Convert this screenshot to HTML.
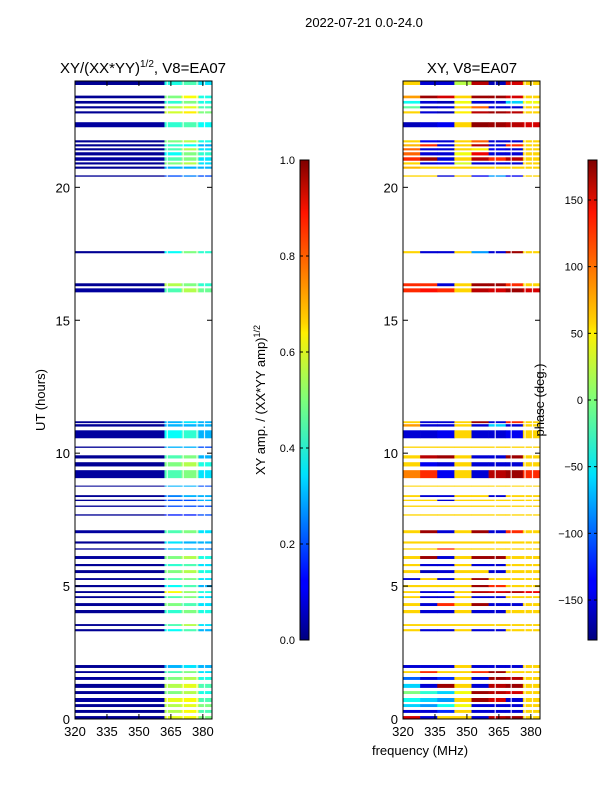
<!DOCTYPE html>
<html><head><meta charset="utf-8">
<style>
body{margin:0;background:#fff;}
svg text{font-family:"Liberation Sans","DejaVu Sans",sans-serif;fill:#000;}
</style></head>
<body>
<svg id="fig" width="600" height="800" xmlns="http://www.w3.org/2000/svg">
<defs>
<linearGradient id="jet" x1="0" y1="1" x2="0" y2="0">
<stop offset="0" stop-color="#00007f"/><stop offset="0.11" stop-color="#0000ff"/>
<stop offset="0.125" stop-color="#0000ff"/><stop offset="0.34" stop-color="#00dcff"/>
<stop offset="0.35" stop-color="#00e4f8"/><stop offset="0.5" stop-color="#7dff7a"/>
<stop offset="0.64" stop-color="#fff000"/><stop offset="0.66" stop-color="#ffd400"/>
<stop offset="0.89" stop-color="#ff1400"/><stop offset="1" stop-color="#7f0000"/>
</linearGradient>
</defs>
<text x="364" y="27" font-size="13" text-anchor="middle">2022-07-21 0.0-24.0</text>
<text x="143" y="73" font-size="15" text-anchor="middle">XY/(XX*YY)<tspan font-size="10" dy="-6">1/2</tspan><tspan dy="6">, V8=EA07</tspan></text>
<text x="472" y="73" font-size="15" text-anchor="middle">XY, V8=EA07</text>
<text transform="translate(45,400) rotate(-90)" font-size="13" text-anchor="middle">UT (hours)</text>
<text x="420" y="755" font-size="13" text-anchor="middle">frequency (MHz)</text>
<text transform="translate(265,400) rotate(-90)" font-size="13" text-anchor="middle">XY amp. / (XX*YY amp)<tspan font-size="9" dy="-5">1/2</tspan></text>
<g id="amp"></g>
<g id="ph"></g>
<g id="cb"></g>
<text transform="translate(544,400) rotate(-90)" font-size="13" text-anchor="middle">phase (deg.)</text>
</svg>
<script>
// data
const bandStart=[23.85,23.35,23.15,22.97,22.78,22.26,21.69,21.54,21.39,21.2,21.0,20.86,20.7,20.4,17.52,16.28,16.05,11.13,11.0,10.56,10.2,9.8,9.5,9.06,8.74,8.35,8.2,7.98,7.65,6.99,6.6,6.37,6.02,5.75,5.49,5.23,4.96,4.74,4.55,4.25,3.98,3.5,3.3,1.92,1.73,1.47,1.17,0.94,0.64,0.45,0.23,0.0];
const bandEnd=[24.0,23.45,23.25,23.05,22.86,22.45,21.77,21.62,21.47,21.32,21.13,20.94,20.78,20.45,17.6,16.39,16.2,11.2,11.09,10.86,10.25,9.92,9.66,9.36,8.78,8.42,8.25,8.03,7.7,7.1,6.68,6.42,6.13,5.83,5.6,5.3,5.04,4.81,4.62,4.36,4.1,3.57,3.38,2.03,1.8,1.58,1.32,1.05,0.79,0.56,0.34,0.11];
const ampLow=[0.02,0.02,0.02,0.02,0.02,0.03,0.02,0.02,0.02,0.02,0.03,0.02,0.02,0.02,0.02,0.02,0.03,0.02,0.02,0.03,0.02,0.02,0.02,0.03,0.02,0.02,0.02,0.02,0.02,0.03,0.02,0.02,0.03,0.02,0.02,0.02,0.02,0.02,0.02,0.02,0.02,0.02,0.02,0.02,0.02,0.03,0.02,0.02,0.03,0.02,0.02,0.02];
const ampHigh=[[0.4,0.45,0.35],[0.5,0.62,0.4],[0.42,0.5,0.4],[0.55,0.6,0.45],[0.58,0.64,0.5],[0.42,0.45,0.38],[0.5,0.55,0.4],[0.42,0.38,0.3],[0.45,0.55,0.35],[0.38,0.5,0.42],[0.45,0.5,0.35],[0.5,0.55,0.35],[0.3,0.3,0.3],[0.2,0.25,0.2],[0.38,0.5,0.42],[0.55,0.5,0.42],[0.45,0.55,0.48],[0.3,0.35,0.3],[0.3,0.3,0.3],[0.38,0.42,0.3],[0.3,0.3,0.2],[0.45,0.5,0.3],[0.5,0.55,0.4],[0.45,0.5,0.35],[0.3,0.3,0.2],[0.25,0.3,0.3],[0.2,0.2,0.3],[0.2,0.2,0.2],[0.15,0.15,0.2],[0.45,0.5,0.35],[0.35,0.3,0.3],[0.3,0.3,0.25],[0.5,0.55,0.4],[0.42,0.45,0.35],[0.5,0.55,0.4],[0.45,0.5,0.35],[0.38,0.45,0.3],[0.62,0.52,0.4],[0.45,0.5,0.35],[0.5,0.45,0.35],[0.42,0.5,0.4],[0.45,0.55,0.35],[0.38,0.45,0.3],[0.3,0.35,0.3],[0.45,0.5,0.35],[0.5,0.55,0.4],[0.55,0.6,0.45],[0.5,0.55,0.4],[0.6,0.62,0.45],[0.55,0.6,0.5],[0.55,0.62,0.45],[0.6,0.62,0.5]];
const phase=[[60,-150,-150,20,160,-160,150,60],[80,170,150,60,170,170,150,60],[-40,-150,-160,40,-150,-150,-60,40],[-10,-160,-150,60,100,-150,-150,60],[60,-150,-160,50,160,170,160,60],[-160,-150,-140,60,175,170,160,150],[60,-140,-150,60,100,-150,-150,60],[70,120,-150,60,160,-150,120,60],[100,-150,-150,60,50,-140,-150,60],[100,-150,-150,40,140,-150,-150,60],[120,170,-150,60,160,120,160,60],[60,-150,-140,30,-150,-150,-150,60],[70,60,60,60,60,60,60,60],[60,60,-150,60,-140,-80,-140,60],[60,-150,-150,60,-80,-150,170,60],[120,120,-150,60,170,170,120,60],[120,130,120,60,160,150,170,150],[60,-150,-150,60,170,-150,120,60],[80,-150,-150,60,-150,-60,-150,60],[-150,-150,-140,60,-150,-150,-140,60],[60,60,60,60,60,60,60,60],[60,160,170,60,-150,-150,170,60],[60,-140,-150,60,-150,-150,-150,60],[90,120,-140,60,-150,160,170,120],[60,60,60,60,60,60,60,60],[60,-150,-150,60,60,-150,60,60],[60,60,-150,60,60,60,60,60],[60,60,60,60,60,60,60,60],[60,60,60,60,60,60,60,60],[60,170,-150,60,170,-150,120,60],[60,60,60,60,60,60,60,60],[60,60,120,60,60,60,60,60],[60,170,-150,60,170,170,60,60],[60,-150,-150,60,-150,-150,60,60],[60,-160,-150,60,60,-150,60,60],[-150,60,-150,60,170,60,60,60],[60,60,60,60,170,120,60,60],[60,-150,-140,60,160,150,160,140],[60,-150,-150,60,-150,-150,60,60],[60,-150,120,60,170,-150,-150,60],[60,-150,-150,60,-150,-150,60,60],[60,60,60,60,60,60,60,60],[60,-150,-150,60,-150,-150,60,60],[-150,-150,-150,60,-150,-150,-150,60],[60,120,60,60,120,170,60,60],[-100,-150,-120,60,-150,170,160,60],[-60,-150,170,60,-150,160,170,60],[0,-30,-60,40,170,160,150,60],[-40,-60,-80,60,170,150,-150,60],[-60,-80,-40,40,-150,-150,-150,60],[-150,-150,-120,60,-150,-150,-150,60],[150,-150,60,60,-150,160,170,60]];
const flaggedFreqs=[363,370.5,377,380.5];
const yTicks=[0,5,10,15,20];
const xTicks=[320,335,350,365,380];
const ampTicks=[0.0,0.2,0.4,0.6,0.8,1.0];
const phTicks=[-150,-100,-50,0,50,100,150];

const NS="http://www.w3.org/2000/svg";
const svg=document.getElementById('fig');
const top_=81,bot=719,tMax=24;
const fMin=320,fMax=384.3;
const yS=t=>bot-(t/tMax)*(bot-top_);
const panels=[{x0:75,x1:212,g:document.getElementById('amp')},{x0:403,x1:540,g:document.getElementById('ph')}];
function jet(v){v=Math.max(0,Math.min(1,v));
 const r=Math.min(4*v-1.5,-4*v+4.5),g=Math.min(4*v-0.5,-4*v+3.5),b=Math.min(4*v+0.5,-4*v+2.5);
 const c=x=>Math.round(255*Math.max(0,Math.min(1,x)));return `rgb(${c(r)},${c(g)},${c(b)})`;}
function el(tag,attrs,parent){const e=document.createElementNS(NS,tag);for(const k in attrs)e.setAttribute(k,attrs[k]);parent.appendChild(e);return e;}
function xS(p,f){return p.x0+(f-fMin)/(fMax-fMin)*(p.x1-p.x0);}
// amplitude panel
const pA=panels[0];
for(let i=0;i<bandStart.length;i++){
 const y0=yS(bandEnd[i]),y1=yS(bandStart[i]);
 const r=el('rect',{x:pA.x0,y:y0,width:xS(pA,362)-pA.x0,height:Math.max(1,y1-y0),fill:jet(ampLow[i])},pA.g);
 
 
 const edges=[362,370,378,fMax];
 for(let k=0;k<3;k++){
  const c=el('rect',{x:xS(pA,edges[k]),y:y0,width:xS(pA,edges[k+1])-xS(pA,edges[k]),height:Math.max(1,y1-y0),fill:jet(ampHigh[i][k])},pA.g);
  
  
 }
}
// phase panel
const pP=panels[1];
for(let i=0;i<bandStart.length;i++){
 const y0=yS(bandEnd[i]),y1=yS(bandStart[i]);const w=(fMax-fMin)/8;
 for(let k=0;k<8;k++){
  const c=el('rect',{x:xS(pP,fMin+k*w),y:y0,width:xS(pP,fMin+(k+1)*w)-xS(pP,fMin+k*w)+0.3,height:Math.max(1,y1-y0),fill:jet((phase[i][k]+180)/360)},pP.g);
  
  
 }
}
// flagged channels
panels.forEach(p=>{flaggedFreqs.forEach(f=>{
 const r=el('rect',{x:xS(p,f),y:top_,width:1.2,height:bot-top_,fill:'#fff',opacity:0.85},p.g);
 
 
});});
// axes
panels.forEach((p,pi)=>{
 const fr=el('rect',{x:p.x0,y:top_,width:p.x1-p.x0,height:bot-top_,fill:'none',stroke:'#000','stroke-width':1},p.g);
 
 
 yTicks.forEach(t=>{const y=yS(t);
  el('line',{x1:p.x0,y1:y,x2:p.x0+5,y2:y,stroke:'#000'},p.g);
  el('line',{x1:p.x1,y1:y,x2:p.x1-5,y2:y,stroke:'#000'},p.g);
  const tx=el('text',{x:p.x0-5,y:y+5,'font-size':13,'text-anchor':'end'},p.g);tx.textContent=t;
  
  
 });
 xTicks.forEach(f=>{const x=xS(p,f);
  el('line',{x1:x,y1:bot,x2:x,y2:bot-5,stroke:'#000'},p.g);
  el('line',{x1:x,y1:top_,x2:x,y2:top_+5,stroke:'#000'},p.g);
  const tx=el('text',{x:x,y:bot+17,'font-size':13,'text-anchor':'middle'},p.g);tx.textContent=f;
  
  
 });
});
// colorbars
const cb=document.getElementById('cb');const cbTop=160,cbBot=640;
[{x:300,ticks:ampTicks,min:0,max:1,fmt:v=>v.toFixed(1),n:'amp-colorbar'},{x:588,ticks:phTicks,min:-180,max:180,fmt:v=>v<0?'\u2212'+(-v):''+v,n:'phase-colorbar'}].forEach(c=>{
 const r=el('rect',{x:c.x,y:cbTop,width:9,height:cbBot-cbTop,fill:'url(#jet)',stroke:'#000','stroke-width':1},cb);
 
 
 c.ticks.forEach(v=>{const y=cbBot-(v-c.min)/(c.max-c.min)*(cbBot-cbTop);
  el('line',{x1:c.x,y1:y,x2:c.x+3,y2:y,stroke:'#000'},cb);
  el('line',{x1:c.x+9,y1:y,x2:c.x+6,y2:y,stroke:'#000'},cb);
  const tx=el('text',{x:c.x-5,y:y+4,'font-size':11,'text-anchor':'end'},cb);tx.textContent=c.fmt(v);
  
  
 });
});
</script>
</body></html>
